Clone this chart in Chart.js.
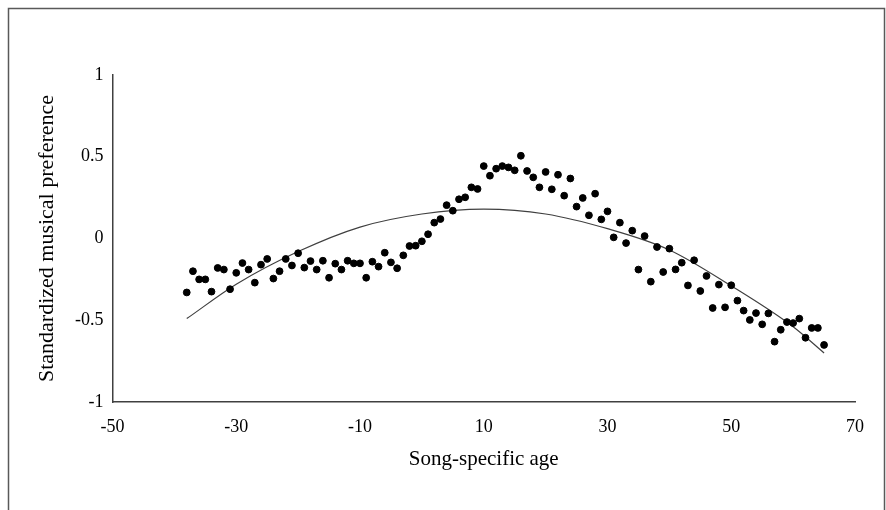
<!DOCTYPE html>
<html>
<head>
<meta charset="utf-8">
<script src="https://cdn.jsdelivr.net/npm/chart.js@4"></script>
<style>
  html, body { margin: 0; padding: 0; background: #fff; }
</style>
</head>
<body>
<canvas id="myChart" width="886" height="510"></canvas>
<script>
// song-specific age, one dot per year
const ages = [
  -38, -37, -36, -35, -34, -33, -32, -31, -30, -29, -28, -27, -26, -25, -24, -23, -22, -21, -20, -19,
  -18, -17, -16, -15, -14, -13, -12, -11, -10, -9, -8, -7, -6, -5, -4, -3, -2, -1,
  0, 1, 2, 3, 4, 5, 6, 7, 8, 9, 10, 11, 12, 13, 14, 15, 16, 17, 18, 19,
  20, 21, 22, 23, 24, 25, 26, 27, 28, 29, 30, 31, 32, 33, 34, 35, 36, 37, 38, 39,
  40, 41, 42, 43, 44, 45, 46, 47, 48, 49, 50, 51, 52, 53, 54, 55, 56, 57, 58, 59,
  60, 61, 62, 63, 64, 65
];

// standardized musical preference
const preference = [
  -0.33, -0.20, -0.25, -0.25, -0.325, -0.18, -0.19, -0.31, -0.21, -0.15, -0.19, -0.27, -0.16, -0.125, -0.245, -0.20, -0.125, -0.165, -0.09, -0.178,
  -0.138, -0.19, -0.136, -0.24, -0.154, -0.19, -0.136, -0.152, -0.152, -0.24, -0.142, -0.172, -0.087, -0.146, -0.182, -0.103, -0.046, -0.044,
  -0.017, 0.026, 0.097, 0.119, 0.204, 0.17, 0.24, 0.252, 0.313, 0.303, 0.443, 0.384, 0.427, 0.443, 0.435, 0.417, 0.506, 0.413, 0.374, 0.313,
  0.407, 0.301, 0.39, 0.262, 0.367, 0.195, 0.248, 0.142, 0.274, 0.117, 0.166, 0.007, 0.097, -0.028, 0.048, -0.19, 0.015, -0.264, -0.052, -0.205,
  -0.062, -0.189, -0.148, -0.287, -0.133, -0.321, -0.229, -0.425, -0.282, -0.421, -0.286, -0.38, -0.441, -0.498, -0.456, -0.525, -0.458, -0.631, -0.558, -0.511,
  -0.517, -0.49, -0.607, -0.547, -0.547, -0.651
];

// trend curve, sampled off the figure
const trendAges = [-38, -30, -20, -10, 0, 10, 20, 30, 40, 50, 60, 65];
const trendValues = [-0.49, -0.28, -0.08, 0.07, 0.15, 0.18, 0.15, 0.06, -0.07, -0.29, -0.54, -0.70];

const xTicks = { min: -50, max: 70, step: 20 };
const yTicks = { min: -1, max: 1, step: 0.5 };

const serif = 'Liberation Serif, Times New Roman, serif';

// white page with the thin frame round it
const framePlugin = {
    id: 'frame',
    beforeDraw(chart) {
        const ctx = chart.ctx;
        ctx.save();
        ctx.fillStyle = '#fff';
        ctx.fillRect(0, 0, chart.width, chart.height);
        ctx.strokeStyle = '#595959';
        ctx.lineWidth = 1.5;
        ctx.strokeRect(8.5, 8.5, 876, 520);
        ctx.restore();
    }
};

const ctx = document.getElementById('myChart').getContext('2d');
const myChart = new Chart(ctx, {
    type: 'scatter',
    data: {
        datasets: [
            {
                label: 'Preference',
                data: ages.map((a, i) => ({ x: a, y: preference[i] })),
                backgroundColor: '#000',
                borderColor: '#000',
                pointRadius: 3.4,
                pointHoverRadius: 3.4,
                order: 1
            },
            {
                label: 'Trend',
                type: 'line',
                data: trendAges.map((a, i) => ({ x: a, y: trendValues[i] })),
                borderColor: '#404040',
                borderWidth: 1.2,
                pointRadius: 0,
                fill: false,
                cubicInterpolationMode: 'monotone',
                order: 2
            }
        ]
    },
    options: {
        responsive: false,
        animation: false,
        layout: { padding: { top: 75, right: 31, left: 0, bottom: 0 } },
        plugins: {
            legend: { display: false },
            tooltip: { enabled: false }
        },
        scales: {
            x: {
                type: 'linear',
                min: xTicks.min,
                max: xTicks.max,
                afterFit: s => { s.height = 108; },
                grid: { display: false, drawTicks: false },
                border: { color: '#404040', width: 1.5 },
                ticks: {
                    stepSize: xTicks.step,
                    padding: 14,
                    color: '#000',
                    font: { family: serif, size: 18 }
                },
                title: {
                    display: true,
                    text: 'Song-specific age',
                    color: '#000',
                    font: { family: serif, size: 21 },
                    padding: { top: 0, bottom: 38 }
                }
            },
            y: {
                min: yTicks.min,
                max: yTicks.max,
                afterFit: s => { s.width = 112.5; },
                grid: { display: false, drawTicks: false },
                border: { color: '#404040', width: 1.5 },
                ticks: {
                    stepSize: yTicks.step,
                    padding: 9,
                    color: '#000',
                    font: { family: serif, size: 18 },
                    callback: value => String(value)
                },
                title: {
                    display: true,
                    text: 'Standardized musical preference',
                    color: '#000',
                    font: { family: serif, size: 22 },
                    padding: { top: 34, bottom: 0 }
                }
            }
        }
    },
    plugins: [framePlugin]
});
</script>
</body>
</html>
